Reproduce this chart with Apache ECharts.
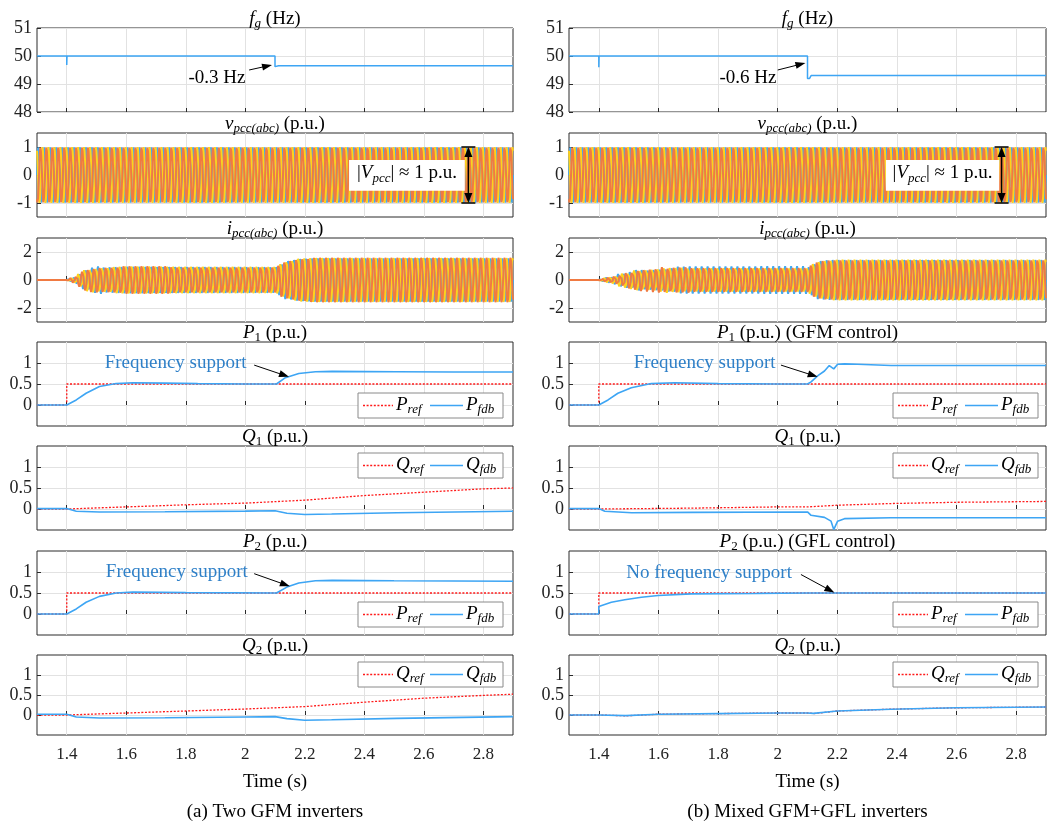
<!DOCTYPE html>
<html><head><meta charset="utf-8">
<script src="https://cdn.jsdelivr.net/npm/echarts@6/dist/echarts.min.js"></script>
<style>html,body{margin:0;padding:0;background:#fff}#c{width:1055px;height:827px}</style>
</head><body><div id="c"></div>
<script>
// ---------------- data ----------------
const timeRange = [1.3, 2.9];
const timeTicks = [1.4, 1.6, 1.8, 2.0, 2.2, 2.4, 2.6, 2.8];
const gridFreq = 50;

// f_g (Hz)
const fgL_t = [1.3, 1.4, 1.4, 1.4008, 1.4008, 2.1, 2.1, 2.106, 2.112, 2.9];
const fgL_v = [50, 50, 49.68, 49.68, 50, 50, 49.62, 49.6, 49.65, 49.65];
const fgR_t = [1.3, 1.4, 1.4, 1.4008, 1.4008, 2.1, 2.1, 2.107, 2.112, 2.9];
const fgR_v = [50, 50, 49.6, 49.6, 50, 50, 49.2, 49.2, 49.3, 49.3];

// v_pcc(abc) envelope (p.u.)
const vpccL_envT = [1.3, 2.9], vpccL_envA = [1, 1];
const vpccR_envT = [1.3, 2.9], vpccR_envA = [1, 1];

// i_pcc(abc) envelope (p.u.)
const ipccL_envT = [1.3, 1.4, 1.432, 1.465, 1.51, 1.6, 1.8, 2.105, 2.135, 2.18, 2.236, 2.9];
const ipccL_envA = [0, 0, 0.35, 0.79, 0.98, 1.05, 1.03, 1.02, 1.38, 1.57, 1.62, 1.62];
const ipccR_envT = [1.3, 1.4, 1.44, 1.487, 1.543, 1.6, 1.71, 2.1, 2.135, 2.157, 2.2, 2.9];
const ipccR_envA = [0, 0, 0.3, 0.55, 0.79, 0.9, 0.97, 0.98, 1.38, 1.48, 1.5, 1.5];

// P reference (both inverters, both cases)
const pref_t = [1.3, 1.4, 1.4, 2.9];
const pref_v = [0, 0, 0.5, 0.5];

// P1
const p1L_t = [1.3, 1.4, 1.432, 1.465, 1.51, 1.566, 1.622, 1.73, 1.84, 2.0, 2.105, 2.135, 2.18, 2.236, 2.292, 2.4, 2.51, 2.7, 2.9];
const p1L_v = [0, 0, 0.12, 0.28, 0.44, 0.51, 0.53, 0.52, 0.51, 0.5, 0.5, 0.65, 0.75, 0.79, 0.8, 0.795, 0.79, 0.787, 0.785];
const p1R_t = [1.3, 1.4, 1.431, 1.464, 1.509, 1.576, 1.654, 1.8, 2.0, 2.1, 2.112, 2.135, 2.157, 2.173, 2.188, 2.201, 2.224, 2.268, 2.38, 2.6, 2.9];
const p1R_v = [0, 0, 0.12, 0.28, 0.41, 0.51, 0.53, 0.51, 0.5, 0.5, 0.55, 0.7, 0.81, 0.94, 0.86, 0.97, 0.98, 0.97, 0.94, 0.94, 0.94];

// Q1
const q1refL_t = [1.3, 1.4, 1.6, 1.8, 2.0, 2.2, 2.4, 2.6, 2.8, 2.9];
const q1refL_v = [0, 0, 0.05, 0.1, 0.14, 0.21, 0.32, 0.4, 0.48, 0.5];
const q1L_t = [1.3, 1.4, 1.432, 1.51, 1.73, 2.0, 2.1, 2.14, 2.2, 2.29, 2.51, 2.9];
const q1L_v = [0.01, 0.01, -0.055, -0.07, -0.065, -0.05, -0.04, -0.1, -0.13, -0.12, -0.09, -0.055];
const q1refR_t = [1.3, 1.4, 1.71, 2.0, 2.1, 2.2, 2.38, 2.6, 2.9];
const q1refR_v = [0, 0, 0.02, 0.05, 0.05, 0.09, 0.13, 0.16, 0.18];
const q1R_t = [1.3, 1.4, 1.42, 1.51, 1.71, 2.1, 2.112, 2.157, 2.179, 2.188, 2.201, 2.224, 2.38, 2.9];
const q1R_v = [0.01, 0.01, -0.055, -0.09, -0.08, -0.07, -0.15, -0.2, -0.29, -0.49, -0.29, -0.23, -0.21, -0.21];

// P2
const p2L_t = [1.3, 1.4, 1.432, 1.465, 1.51, 1.566, 1.622, 1.8, 2.105, 2.14, 2.18, 2.236, 2.292, 2.5, 2.9];
const p2L_v = [0, 0, 0.12, 0.28, 0.42, 0.5, 0.52, 0.51, 0.5, 0.64, 0.74, 0.79, 0.8, 0.79, 0.78];
const p2R_t = [1.3, 1.4, 1.4, 1.442, 1.487, 1.543, 1.599, 1.71, 1.82, 1.93, 2.1, 2.9];
const p2R_v = [0, 0, 0.18, 0.28, 0.34, 0.4, 0.44, 0.48, 0.485, 0.49, 0.5, 0.5];

// Q2
const q2refL_t = [1.3, 1.4, 1.6, 1.8, 2.0, 2.2, 2.4, 2.6, 2.8, 2.9];
const q2refL_v = [0, 0, 0.05, 0.1, 0.15, 0.21, 0.32, 0.42, 0.49, 0.52];
const q2L_t = [1.3, 1.4, 1.432, 1.51, 1.73, 2.0, 2.1, 2.14, 2.2, 2.29, 2.51, 2.9];
const q2L_v = [0.02, 0.02, -0.05, -0.075, -0.07, -0.05, -0.04, -0.09, -0.13, -0.12, -0.085, -0.04];
const q2refR_t = [1.3, 1.4, 1.49, 1.6, 1.8, 2.0, 2.1, 2.12, 2.2, 2.38, 2.6, 2.9];
const q2refR_v = [0, 0, -0.02, 0.02, 0.035, 0.05, 0.05, 0.035, 0.1, 0.145, 0.18, 0.2];
const q2R_t = [1.3, 1.4, 1.49, 1.6, 1.8, 2.0, 2.1, 2.12, 2.2, 2.38, 2.6, 2.9];
const q2R_v = [0, 0, -0.015, 0.02, 0.035, 0.05, 0.05, 0.04, 0.1, 0.145, 0.18, 0.2];

// ---------------- styling / layout ----------------
const SERIF = "'Liberation Serif', 'Times New Roman', serif";
const COL_LEFT = [37, 569], COL_W = [476, 477];
const ROW_TOP = [28, 133, 238, 342, 446, 551, 655];
const ROW_H = [84, 84, 84, 84, 84, 84, 80];
const BLUE = '#3DA5F4', RED = '#FF1A1A', TXTBLUE = '#2F80C8';
const PHASE_COLORS = ['#43A9EE', '#FFD21A', '#F07A42'];
const PHASE_SHIFT = [0, 2, 1];

function pairs(t, v) { return t.map((x, i) => [x, v[i]]); }
function envAt(T, A, t) {
  for (let i = 0; i < T.length - 1; i++) {
    if (t >= T[i] && t <= T[i + 1]) {
      const f = T[i + 1] === T[i] ? 1 : (t - T[i]) / (T[i + 1] - T[i]);
      return A[i] + f * (A[i + 1] - A[i]);
    }
  }
  return A[A.length - 1];
}
function threePhase(T, A) {
  const out = [[], [], []];
  const dt = 0.0005;
  for (let t = timeRange[0]; t <= timeRange[1] + 1e-9; t += dt) {
    const a = envAt(T, A, t);
    for (let k = 0; k < 3; k++) {
      out[k].push([t, a * Math.sin(2 * Math.PI * gridFreq * t - PHASE_SHIFT[k] * 2 * Math.PI / 3)]);
    }
  }
  return out;
}

const grids = [], xAxes = [], yAxes = [], series = [];
const yCfg = [
  {min: 48, max: 51, ticks: [48, 49, 50, 51]},
  {min: -1.5, max: 1.5, ticks: [-1, 0, 1]},
  {min: -3, max: 3, ticks: [-2, 0, 2]},
  {min: -0.5, max: 1.5, ticks: [0, 0.5, 1]},
  {min: -0.5, max: 1.5, ticks: [0, 0.5, 1]},
  {min: -0.5, max: 1.5, ticks: [0, 0.5, 1]},
  {min: -0.5, max: 1.5, ticks: [0, 0.5, 1]}
];
for (let r = 0; r < 7; r++) {
  for (let c = 0; c < 2; c++) {
    const gi = r * 2 + c;
    grids.push({left: COL_LEFT[c], top: ROW_TOP[r], width: COL_W[c], height: ROW_H[r],
      show: true, borderColor: '#2a2a2a', borderWidth: 1});
    xAxes.push({gridIndex: gi, type: 'value', min: timeRange[0], max: timeRange[1],
      axisLine: {show: false},
      axisTick: {show: true, inside: true, length: 4, customValues: timeTicks, lineStyle: {color: '#2a2a2a'}},
      axisLabel: {show: r === 6, customValues: timeTicks, fontFamily: SERIF, fontSize: 17, color: '#222', margin: 11},
      splitLine: {show: true, lineStyle: {color: '#e2e2e2', width: 1}}});
    yAxes.push({gridIndex: gi, type: 'value', min: yCfg[r].min, max: yCfg[r].max,
      axisLine: {show: false},
      axisTick: {show: true, inside: true, length: 4, customValues: yCfg[r].ticks, lineStyle: {color: '#2a2a2a'}},
      axisLabel: {customValues: yCfg[r].ticks, fontFamily: SERIF, fontSize: 18, color: '#222', margin: 5},
      splitLine: {show: true, lineStyle: {color: '#e2e2e2', width: 1}}});
  }
}
function line(gi, data, color, width, dotted) {
  series.push({type: 'line', xAxisIndex: gi, yAxisIndex: gi, data, showSymbol: false, symbol: 'none',
    silent: true, animation: false, clip: true,
    lineStyle: {color, width, type: dotted ? [2, 1.6] : 'solid'}});
}
// row 0
line(0, pairs(fgL_t, fgL_v), BLUE, 1.5);
line(1, pairs(fgR_t, fgR_v), BLUE, 1.5);
// row 1, 2 waveforms
[[2, vpccL_envT, vpccL_envA], [3, vpccR_envT, vpccR_envA], [4, ipccL_envT, ipccL_envA], [5, ipccR_envT, ipccR_envA]]
  .forEach(([gi, T, A]) => {
    const ph = threePhase(T, A);
    ph.forEach((d, k) => line(gi, d, PHASE_COLORS[k], 1.9));
  });
// row 3 P1
line(6, pairs(pref_t, pref_v), RED, 1.3, true); line(6, pairs(p1L_t, p1L_v), BLUE, 1.6);
line(7, pairs(pref_t, pref_v), RED, 1.3, true); line(7, pairs(p1R_t, p1R_v), BLUE, 1.6);
// row 4 Q1
line(8, pairs(q1refL_t, q1refL_v), RED, 1.3, true); line(8, pairs(q1L_t, q1L_v), BLUE, 1.6);
line(9, pairs(q1refR_t, q1refR_v), RED, 1.3, true); line(9, pairs(q1R_t, q1R_v), BLUE, 1.6);
// row 5 P2
line(10, pairs(pref_t, pref_v), RED, 1.3, true); line(10, pairs(p2L_t, p2L_v), BLUE, 1.6);
line(11, pairs(pref_t, pref_v), RED, 1.3, true); line(11, pairs(p2R_t, p2R_v), BLUE, 1.6);
// row 6 Q2
line(12, pairs(q2refL_t, q2refL_v), RED, 1.3, true); line(12, pairs(q2L_t, q2L_v), BLUE, 1.6);
line(13, pairs(q2refR_t, q2refR_v), RED, 1.3, true); line(13, pairs(q2R_t, q2R_v), BLUE, 1.6);

const chart = echarts.init(document.getElementById('c'), null, {renderer: 'canvas'});
chart.setOption({animation: false, backgroundColor: '#fff', grid: grids, xAxis: xAxes, yAxis: yAxes, series});

// ---------------- annotations ----------------
const RICH = {
  n: {fontFamily: SERIF, fontSize: 19, fill: '#000'},
  i: {fontFamily: SERIF, fontSize: 19, fontStyle: 'italic', fill: '#000'},
  s: {fontFamily: SERIF, fontSize: 13, fontStyle: 'italic', fill: '#000', padding: [10, 0, 0, 0]},
  su: {fontFamily: SERIF, fontSize: 13, fill: '#000', padding: [10, 0, 0, 0]},
  b: {fontFamily: SERIF, fontSize: 19, fill: TXTBLUE}
};
const G = [];
function txt(x, y, text, align, valign) {
  G.push({type: 'text', x, y, z: 100, silent: true,
    style: {text, rich: RICH, align: align || 'center', verticalAlign: valign || 'middle',
      textAlign: align || 'center', textVerticalAlign: valign || 'middle', font: '19px ' + SERIF}});
}
function seg(x1, y1, x2, y2, w, dash) {
  G.push({type: 'line', z: 100, silent: true, shape: {x1, y1, x2, y2},
    style: {stroke: dash ? dash.color : '#000', lineWidth: w || 1, lineDash: dash ? dash.d : null}});
}
function head(x1, y1, x2, y2, len, hw) {
  const a = Math.atan2(y2 - y1, x2 - x1), ux = Math.cos(a), uy = Math.sin(a);
  const bx = x2 - ux * len, by = y2 - uy * len;
  G.push({type: 'polygon', z: 101, silent: true,
    shape: {points: [[x2, y2], [bx - uy * hw, by + ux * hw], [bx + uy * hw, by - ux * hw]]}, style: {fill: '#000'}});
}
function arrow(p1, p2) {
  const a = Math.atan2(p2[1] - p1[1], p2[0] - p1[0]);
  seg(p1[0], p1[1], p2[0] - Math.cos(a) * 6, p2[1] - Math.sin(a) * 6, 1);
  head(p1[0], p1[1], p2[0], p2[1], 10, 3.5);
}
const px = (gi, t, v) => chart.convertToPixel({gridIndex: gi}, [t, v]);

// titles
const titles = [
  ['{i|f}{s|g}{n| (Hz)}', '{i|f}{s|g}{n| (Hz)}'],
  ['{i|v}{s|pcc(abc)}{n| (p.u.)}', '{i|v}{s|pcc(abc)}{n| (p.u.)}'],
  ['{i|i}{s|pcc(abc)}{n| (p.u.)}', '{i|i}{s|pcc(abc)}{n| (p.u.)}'],
  ['{i|P}{su|1}{n| (p.u.)}', '{i|P}{su|1}{n| (p.u.) (GFM control)}'],
  ['{i|Q}{su|1}{n| (p.u.)}', '{i|Q}{su|1}{n| (p.u.)}'],
  ['{i|P}{su|2}{n| (p.u.)}', '{i|P}{su|2}{n| (p.u.) (GFL control)}'],
  ['{i|Q}{su|2}{n| (p.u.)}', '{i|Q}{su|2}{n| (p.u.)}']
];
for (let r = 0; r < 7; r++) for (let c = 0; c < 2; c++) {
  txt(COL_LEFT[c] + COL_W[c] / 2, ROW_TOP[r] - 9, titles[r][c]);
}
// axis titles and captions
const captions = ['{n|(a) Two GFM inverters}', '{n|(b) Mixed GFM+GFL inverters}'];
for (let c = 0; c < 2; c++) {
  const cx = COL_LEFT[c] + COL_W[c] / 2;
  txt(cx, 782, '{n|Time (s)}');
  txt(cx, 812, captions[c]);
}

// frequency step annotations
const fgAnn = [
  {gi: 0, label: '{n|-0.3 Hz}', at: [1.905, 49.2], from: [2.013, 49.5], to: [2.09, 49.68]},
  {gi: 1, label: '{n|-0.6 Hz}', at: [1.9, 49.2], from: [2.0, 49.5], to: [2.093, 49.75]}
];
fgAnn.forEach(a => {
  const p = px(a.gi, a.at[0], a.at[1]);
  txt(p[0], p[1], a.label);
  arrow(px(a.gi, a.from[0], a.from[1]), px(a.gi, a.to[0], a.to[1]));
});

// |Vpcc| annotation
[{gi: 2, box: [2.349, 2.738], arrowT: 2.75}, {gi: 3, box: [2.363, 2.743], arrowT: 2.751}].forEach(a => {
  const p1 = px(a.gi, a.box[0], 0.54), p2 = px(a.gi, a.box[1], -0.56);
  G.push({type: 'rect', z: 99, silent: true, shape: {x: p1[0], y: p1[1], width: p2[0] - p1[0], height: p2[1] - p1[1]},
    style: {fill: '#fff'}});
  txt((p1[0] + p2[0]) / 2, (p1[1] + p2[1]) / 2 - 2, '{n||}{i|V}{s|pcc}{n|| ≈ 1 p.u.}');
  const top = px(a.gi, a.arrowT, 1), bot = px(a.gi, a.arrowT, -1);
  seg(top[0], top[1] + 8, bot[0], bot[1] - 8, 1.5);
  head(top[0], bot[1], top[0], top[1], 10, 4);
  head(bot[0], top[1], bot[0], bot[1], 10, 4);
  seg(top[0] - 7, top[1], top[0] + 7, top[1], 1.5);
  seg(bot[0] - 7, bot[1], bot[0] + 7, bot[1], 1.5);
});

// frequency support annotations
const supAnn = [
  {gi: 6, label: '{b|Frequency support}', at: [1.766, 0.99], from: [2.03, 0.95], to: [2.147, 0.67]},
  {gi: 7, label: '{b|Frequency support}', at: [1.755, 0.99], from: [2.011, 0.95], to: [2.134, 0.67]},
  {gi: 10, label: '{b|Frequency support}', at: [1.77, 0.99], from: [2.03, 0.96], to: [2.15, 0.66]},
  {gi: 11, label: '{b|No frequency support}', at: [1.77, 0.98], from: [2.078, 0.94], to: [2.19, 0.51]}
];
supAnn.forEach(a => {
  const p = px(a.gi, a.at[0], a.at[1]);
  txt(p[0], p[1], a.label);
  arrow(px(a.gi, a.from[0], a.from[1]), px(a.gi, a.to[0], a.to[1]));
});

// legends
const legends = [
  {r: 3, n: 'P', pos: 'bottom'}, {r: 4, n: 'Q', pos: 'top'},
  {r: 5, n: 'P', pos: 'bottom'}, {r: 6, n: 'Q', pos: 'top'}
];
legends.forEach(L => {
  for (let c = 0; c < 2; c++) {
    const right = COL_LEFT[c] + COL_W[c] - (c === 0 ? 10 : 8);
    const w = 145, h = 25;
    const x0 = right - w;
    const y0 = L.pos === 'top' ? ROW_TOP[L.r] + 7 : ROW_TOP[L.r] + 51;
    G.push({type: 'rect', z: 102, silent: true, shape: {x: x0, y: y0, width: w, height: h},
      style: {fill: '#fff', stroke: '#8a8a8a', lineWidth: 1}});
    const cy = y0 + h / 2;
    G.push({type: 'line', z: 103, silent: true, shape: {x1: x0 + 5, y1: cy, x2: x0 + 35, y2: cy},
      style: {stroke: RED, lineWidth: 1.3, lineDash: [2, 1.6]}});
    G.push({type: 'line', z: 103, silent: true, shape: {x1: x0 + 72, y1: cy, x2: x0 + 105, y2: cy},
      style: {stroke: BLUE, lineWidth: 1.6}});
    const t1 = {type: 'text', x: x0 + 38, y: cy - 1, z: 103, silent: true,
      style: {text: '{i|' + L.n + '}{s|ref}', rich: RICH, align: 'left', verticalAlign: 'middle',
        textAlign: 'left', textVerticalAlign: 'middle', font: '19px ' + SERIF}};
    const t2 = {type: 'text', x: x0 + 108, y: cy - 1, z: 103, silent: true,
      style: {text: '{i|' + L.n + '}{s|fdb}', rich: RICH, align: 'left', verticalAlign: 'middle',
        textAlign: 'left', textVerticalAlign: 'middle', font: '19px ' + SERIF}};
    G.push(t1, t2);
  }
});

chart.setOption({graphic: {elements: G}});
</script></body></html>
